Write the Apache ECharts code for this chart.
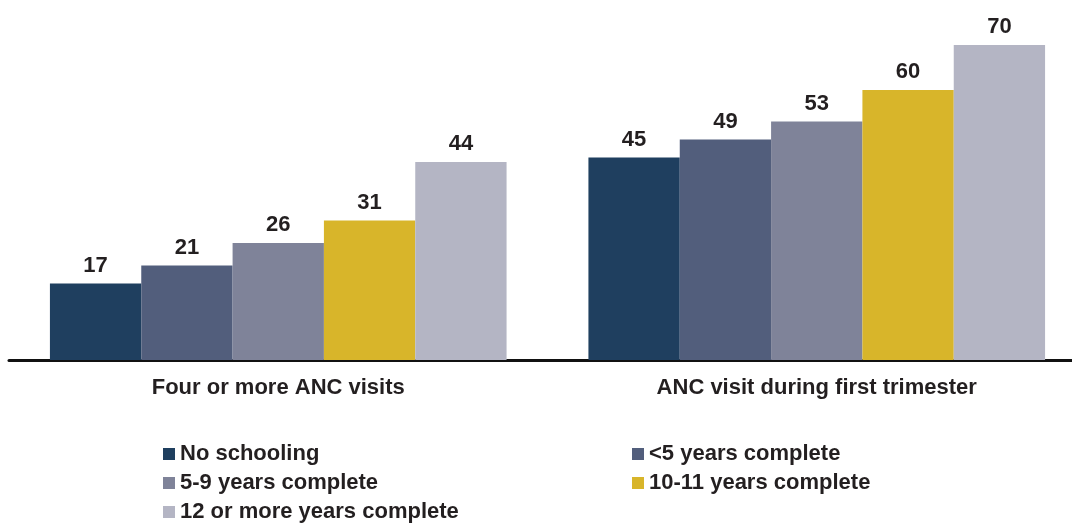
<!DOCTYPE html>
<html>
<head>
<meta charset="utf-8">
<script src="https://cdn.jsdelivr.net/npm/echarts@6/dist/echarts.min.js"></script>
<style>html,body{margin:0;padding:0;background:#fff;overflow:hidden}#c{width:1086px;height:523px}</style>
</head>
<body>
<div id="c"></div>
<script>
const categories = ["Four or more ANC visits", "ANC visit during first trimester"];
const seriesNames = ["No schooling", "<5 years complete", "5-9 years complete", "10-11 years complete", "12 or more years complete"];
const noSchooling = [17, 45];
const lessThan5 = [21, 49];
const years5to9 = [26, 53];
const years10to11 = [31, 60];
const years12plus = [44, 70];
const colors = ["#1f3f5f", "#525e7c", "#7f8399", "#d8b52a", "#b4b5c4"];

const values = [noSchooling, lessThan5, years5to9, years10to11, years12plus];
const font = "'Liberation Sans', Arial, sans-serif";

const chart = echarts.init(document.getElementById('c'), null, {renderer: 'canvas'});
const legendPos = [[163, 443], [632, 443], [163, 472], [632, 472], [163, 501]];
chart.setOption({
  animation: false,
  backgroundColor: '#fff',
  grid: {left: 9, top: 0, right: 0, bottom: 163, containLabel: false},
  xAxis: {
    type: 'category',
    data: categories,
    axisLine: {lineStyle: {color: '#111', width: 3}},
    axisTick: {show: false},
    axisLabel: {color: '#231f20', fontFamily: font, fontWeight: 'bold', fontSize: 22, margin: 17}
  },
  yAxis: {type: 'value', min: 0, max: 80, show: false, splitLine: {show: false}},
  legend: seriesNames.map((n, i) => ({
    data: [n],
    left: legendPos[i][0],
    top: legendPos[i][1],
    itemWidth: 12,
    itemHeight: 12,
    icon: 'rect',
    padding: 0,
    textStyle: {color: '#231f20', fontFamily: font, fontWeight: 'bold', fontSize: 22}
  })),
  series: seriesNames.map((n, i) => ({
    name: n,
    type: 'bar',
    data: values[i],
    barGap: '0%',
    barCategoryGap: '15.2%',
    itemStyle: {color: colors[i]},
    label: {show: true, position: 'top', distance: 7, color: '#231f20', fontFamily: font, fontWeight: 'bold', fontSize: 22}
  }))
});
</script>
</body>
</html>
